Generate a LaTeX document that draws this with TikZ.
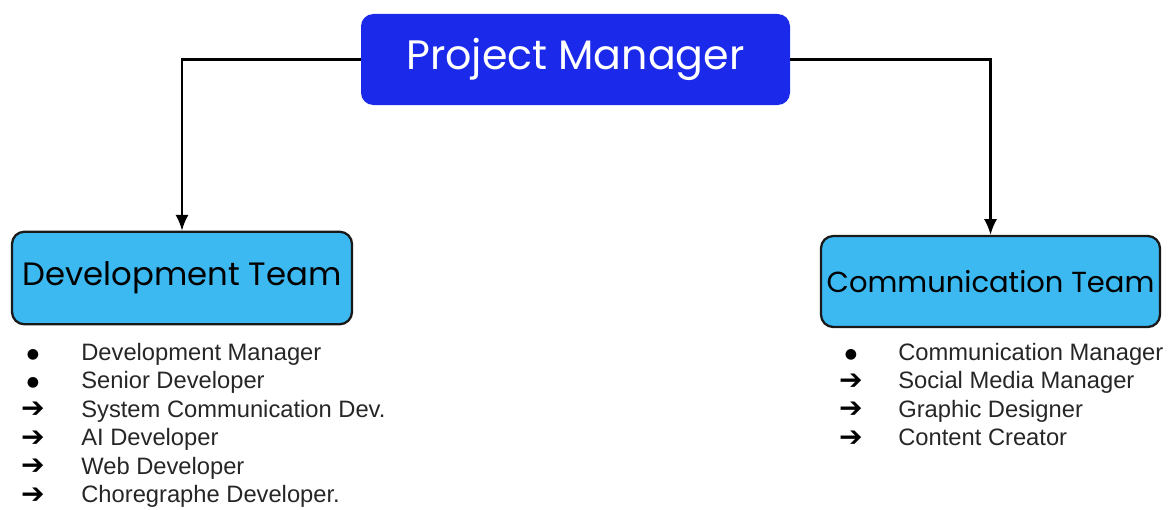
\documentclass[tikz,border=0pt]{standalone}
\usepackage{fontspec}
\setmainfont{Liberation Sans}
\newfontfamily\boxfont{Poppins}
\newfontfamily\symfont{DejaVu Sans}
\usepackage{tikz}
\usetikzlibrary{arrows.meta}

\definecolor{pmblue}{RGB}{27,42,234}
\definecolor{teamblue}{RGB}{60,185,240}

\tikzset{
  pmbox/.style={rectangle, rounded corners=7pt, fill=pmblue, text=white,
    minimum width=8.58cm, minimum height=1.82cm, font=\boxfont\fontsize{23.4}{26}\selectfont},
  teambox/.style={rectangle, rounded corners=7pt, draw=black!90, line width=1.3pt, fill=teamblue,
    inner sep=0pt, minimum width=6.8cm, minimum height=1.85cm, font=\boxfont\fontsize{18.4}{22}\selectfont},
  link/.style={-{Latex[length=9pt,width=7.5pt]}, line width=1.2pt},
  member/.style={anchor=base west, inner sep=0pt, text=black!85, font=\fontsize{13.5}{16}\selectfont},
  glyph/.style={anchor=base, inner sep=0pt, text=black}
}

\begin{document}
\begin{tikzpicture}
  \useasboundingbox (0,0) rectangle (23.42,10.18);

  % boxes
  \node[pmbox] (pm) at (11.51,8.99) {Project Manager};
  \node[teambox] (dev) at (3.64,4.62) {Development Team};
  \node[teambox, minimum width=6.78cm, minimum height=1.82cm, font=\boxfont\fontsize{16.5}{20}\selectfont]
    (com) at (19.81,4.55) {Communication Team};

  % links from the manager down to both teams
  \draw[link] (pm.west) -| (dev.north);
  \draw[link] (pm.east) -| (com.north);

  % development team members
  \foreach \i/\s/\t in {1/b/Development Manager, 2/b/Senior Developer,
      3/a/System Communication Dev., 4/a/AI Developer,
      5/a/Web Developer, 6/a/Choregraphe Developer.} {
    \node[member] (dev\i) at (1.62,{2.98-0.57*(\i-1)}) {\t};
    \if\s b
      \node[glyph, font=\symfont\fontsize{8}{8}\selectfont] (devm\i) at (0.66,{3.02-0.57*(\i-1)}) {●};
    \else
      \node[glyph, font=\symfont\fontsize{16}{16}\selectfont] (devm\i) at (0.66,{2.97-0.57*(\i-1)}) {➔};
    \fi
  }

  % communication team members
  \foreach \i/\s/\t in {1/b/Communication Manager, 2/a/Social Media Manager,
      3/a/Graphic Designer, 4/a/Content Creator} {
    \node[member] (com\i) at (17.96,{2.98-0.57*(\i-1)}) {\t};
    \if\s b
      \node[glyph, font=\symfont\fontsize{8}{8}\selectfont] (comm\i) at (17.02,{3.02-0.57*(\i-1)}) {●};
    \else
      \node[glyph, font=\symfont\fontsize{16}{16}\selectfont] (comm\i) at (17.02,{2.97-0.57*(\i-1)}) {➔};
    \fi
  }
\end{tikzpicture}
\end{document}
